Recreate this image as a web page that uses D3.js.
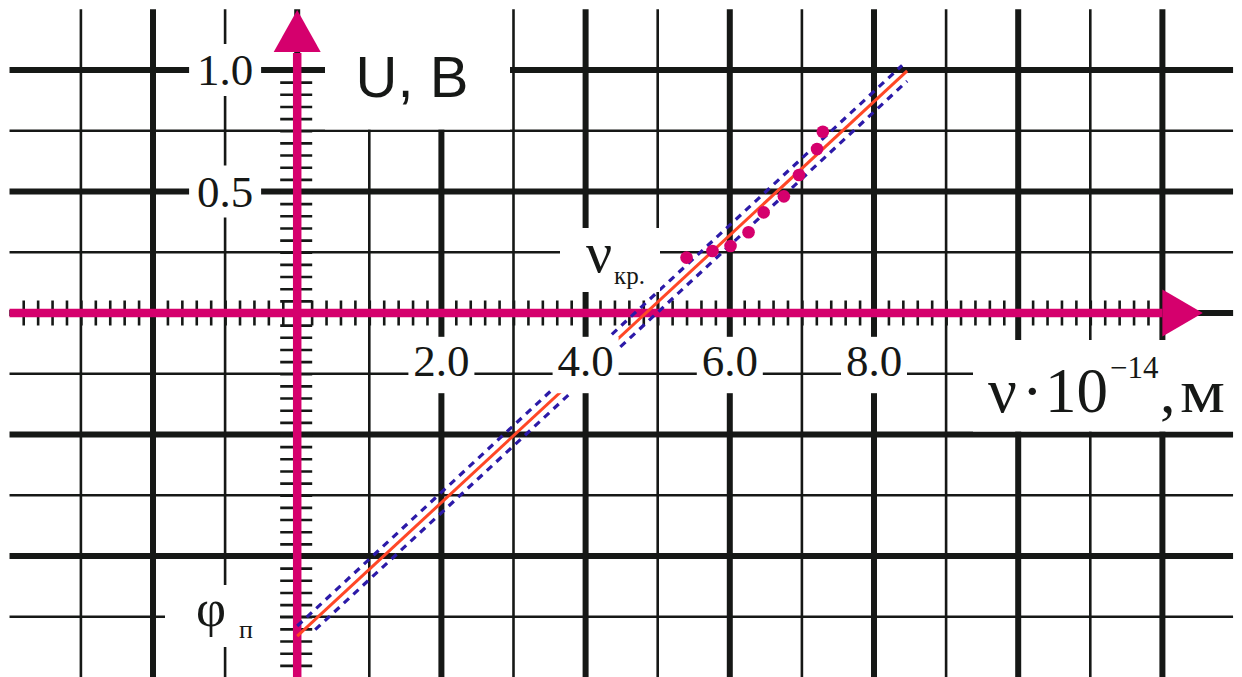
<!DOCTYPE html>
<html>
<head>
<meta charset="utf-8">
<script src="https://cdn.jsdelivr.net/npm/d3@7"></script>
<style>
  html, body { margin: 0; padding: 0; background: #fff; }
  svg { display: block; }
</style>
</head>
<body>
<svg id="chart" width="1242" height="677"></svg>
<script>
// Measured points: frequency (×10^14) and stopping voltage U, V
const freq = [5.40, 5.76, 6.01, 6.26, 6.47, 6.75, 6.96, 7.21, 7.29];
const volt = [0.228, 0.255, 0.276, 0.332, 0.414, 0.480, 0.568, 0.675, 0.746];

// Fitted line U = a + b·ν and its error band
const fitIntercept = -1.33;
const fitSlope = 0.275;
const bandHalf = 0.042;
const fitRange = [0, 8.46];
const bandUpperRange = [0, 8.39];
const bandLowerRange = [0.25, 8.46];

// Tick labels
const xTickLabels = ["2.0", "4.0", "6.0", "8.0"];
const xTickValues = [2, 4, 6, 8];
const yTickLabels = ["1.0", "0.5"];
const yTickValues = [1.0, 0.5];

// Grid positions
const gridX = d3.range(-3, 13, 1);
const gridY = d3.range(-1.25, 1.01, 0.25).map(v => +v.toFixed(2));
const minorX = d3.range(-3.8, 11.9, 0.2).map(v => +v.toFixed(2));
const minorY = d3.range(-1.45, 0.96, 0.05).map(v => +v.toFixed(2));

const W = 1242, H = 677;
const x = d3.scaleLinear().domain([-4, 13]).range([297.2 - 4 * 72.1, 297.2 + 13 * 72.1]);
const y = d3.scaleLinear().domain([-1.5, 1.25]).range([313 + 1.5 * 243, 313 - 1.25 * 243]);

const INK = "#161816";
const AXIS = "#d5006d";
const svg = d3.select("#chart");

// --- grid ---
const grid = svg.append("g");
const xLeft = x(-3.99), xRight = x(12.98);
const yTop = y(1.25), yBottom = y(-1.5);

grid.selectAll("line.h").data(gridY.concat([0])).join("line")
  .attr("x1", xLeft).attr("x2", xRight)
  .attr("y1", d => y(d)).attr("y2", d => y(d))
  .attr("stroke", INK)
  .attr("stroke-width", d => (Math.abs(d * 2 - Math.round(d * 2)) < 1e-6) ? 6 : 2.6);

grid.selectAll("line.v").data(gridX).join("line")
  .attr("x1", d => x(d)).attr("x2", d => x(d))
  .attr("y1", yTop).attr("y2", yBottom)
  .attr("stroke", INK)
  .attr("stroke-width", d => d % 2 === 0 ? 6 : 2.6);

// --- minor ticks through d3 axes ---
const xTickLen = 25;
const xMinorAxis = d3.axisBottom(x).tickValues(minorX).tickSize(xTickLen).tickFormat("");
const gxm = svg.append("g").attr("transform", `translate(0,${y(0) - xTickLen / 2})`).call(xMinorAxis);
gxm.select(".domain").remove();
gxm.selectAll(".tick line").attr("stroke", INK).attr("stroke-width", 2.6);

const yTickLen = 32;
const yMinorAxis = d3.axisRight(y).tickValues(minorY).tickSize(yTickLen).tickFormat("");
const gym = svg.append("g").attr("transform", `translate(${x(0) - 17},0)`).call(yMinorAxis);
gym.select(".domain").remove();
gym.selectAll(".tick line").attr("stroke", INK).attr("stroke-width", 2.6);

// --- main axes ---
const axes = svg.append("g");
axes.append("line")
  .attr("x1", x(-3.99)).attr("x2", x(12.0))
  .attr("y1", y(0)).attr("y2", y(0))
  .attr("stroke", AXIS).attr("stroke-width", 8.5);
axes.append("path")
  .attr("d", `M${x(12.0)},${y(0) - 23.5} L${x(12.56)},${y(0)} L${x(12.0)},${y(0) + 23.5} Z`)
  .attr("fill", AXIS);
axes.append("line")
  .attr("x1", x(0)).attr("x2", x(0))
  .attr("y1", y(-1.5)).attr("y2", y(1.07))
  .attr("stroke", AXIS).attr("stroke-width", 8.5);
axes.append("path")
  .attr("d", `M${x(0) - 23.5},${y(1.074)} L${x(0)},${y(1.247)} L${x(0) + 23.5},${y(1.074)} Z`)
  .attr("fill", AXIS);

// --- fitted line and error band ---
const lineGen = d3.line().x(d => x(d[0])).y(d => y(d[1]));
const fitLines = svg.append("g");
fitLines.append("path")
  .attr("d", lineGen(bandUpperRange.map(v => [v, fitIntercept + bandHalf + fitSlope * v])))
  .attr("fill", "none").attr("stroke", "#2c1aa8").attr("stroke-width", 3.2)
  .attr("stroke-dasharray", "7,6");
fitLines.append("path")
  .attr("d", lineGen(bandLowerRange.map(v => [v, fitIntercept - bandHalf + fitSlope * v])))
  .attr("fill", "none").attr("stroke", "#2c1aa8").attr("stroke-width", 3.2)
  .attr("stroke-dasharray", "7,6");
fitLines.append("path")
  .attr("d", lineGen(fitRange.map(v => [v, fitIntercept + fitSlope * v])))
  .attr("fill", "none").attr("stroke", "#ff4726").attr("stroke-width", 3);

// --- labels on white boxes ---
const labels = svg.append("g");
const SERIF = "'Liberation Serif', 'Times New Roman', serif";
const SANS = "'Liberation Sans', Arial, sans-serif";

// y tick labels
yTickValues.forEach((v, i) => {
  labels.append("rect")
    .attr("x", x(-1) - 36).attr("y", y(v) - 26).attr("width", 72).attr("height", 52)
    .attr("fill", "#fff");
  labels.append("text")
    .attr("x", x(-1)).attr("y", y(v) + 15)
    .attr("text-anchor", "middle").attr("font-family", SERIF).attr("font-size", 45)
    .attr("fill", INK).text(yTickLabels[i]);
});

// x tick labels
xTickValues.forEach((v, i) => {
  labels.append("rect")
    .attr("x", x(v) - 33).attr("y", y(-0.098)).attr("width", 66).attr("height", y(-0.33) - y(-0.098))
    .attr("fill", "#fff");
  labels.append("text")
    .attr("x", x(v)).attr("y", y(-0.26))
    .attr("text-anchor", "middle").attr("font-family", SERIF).attr("font-size", 45)
    .attr("fill", INK).text(xTickLabels[i]);
});

// y axis title
labels.append("rect").attr("x", 325).attr("y", 0).attr("width", 185).attr("height", 129.5).attr("fill", "#fff");
labels.append("text")
  .attr("x", 412).attr("y", 97)
  .attr("text-anchor", "middle").attr("font-family", SANS).attr("font-size", 58)
  .attr("fill", INK).text("U, В");

// x axis title
labels.append("rect").attr("x", 973).attr("y", 340).attr("width", W - 973).attr("height", 91.5).attr("fill", "#fff");
const xt = labels.append("g").attr("font-family", SERIF).attr("fill", INK);
xt.append("text").attr("x", 988).attr("y", 412).attr("font-size", 64).text("ν");
xt.append("text").attr("x", 1022).attr("y", 412).attr("font-size", 62).text("·");
xt.append("text").attr("x", 1045).attr("y", 412).attr("font-size", 63).text("10");
xt.append("text").attr("x", 1110).attr("y", 378).attr("font-size", 31).text("−14");
xt.append("text").attr("x", 1160).attr("y", 412).attr("font-size", 62).text(",");
xt.append("text").attr("x", 1180).attr("y", 412).attr("font-size", 62)
  .attr("textLength", 45).attr("lengthAdjust", "spacingAndGlyphs").text("м");

// cutoff frequency label
labels.append("rect").attr("x", 560).attr("y", 228).attr("width", 100).attr("height", 64).attr("fill", "#fff");
labels.append("text").attr("x", 586).attr("y", 272).attr("font-family", SERIF).attr("font-size", 58)
  .attr("fill", INK).text("ν");
labels.append("text").attr("x", 614).attr("y", 284).attr("font-family", SERIF).attr("font-size", 25)
  .attr("fill", INK).text("кр.");

// work function label
labels.append("rect").attr("x", 165).attr("y", 585).attr("width", 115).attr("height", 62).attr("fill", "#fff");
labels.append("text").attr("x", 196).attr("y", 626).attr("font-family", SERIF).attr("font-size", 52)
  .attr("fill", INK).text("φ");
labels.append("text").attr("x", 239).attr("y", 638).attr("font-family", SERIF).attr("font-size", 26)
  .attr("fill", INK).text("п");

// --- measured points ---
svg.append("g").selectAll("circle").data(freq.map((f, i) => [f, volt[i]])).join("circle")
  .attr("cx", d => x(d[0])).attr("cy", d => y(d[1])).attr("r", 6.3)
  .attr("fill", AXIS);
</script>
</body>
</html>
